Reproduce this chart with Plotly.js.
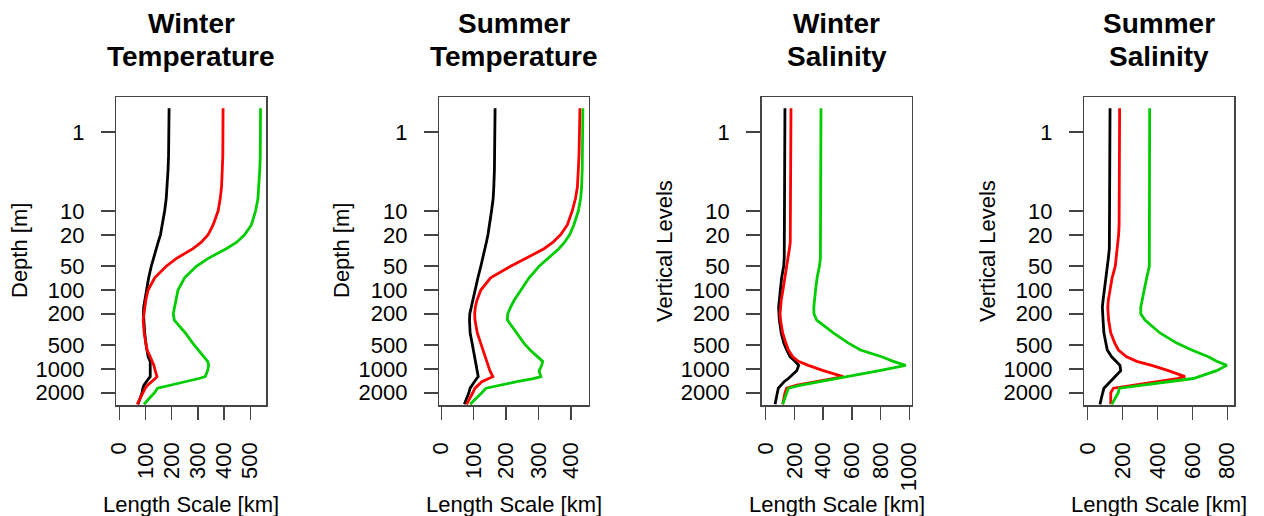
<!DOCTYPE html>
<html><head><meta charset="utf-8">
<script src="https://cdn.plot.ly/plotly-3.0.1.min.js"></script>
<style>html,body{margin:0;padding:0;background:#fff}</style>
</head><body><div id="chart" style="width:1264px;height:516px"></div>
<script>
// Depth levels [m]
const depth = [0.5, 1, 2, 3, 5, 7, 10, 15, 20, 25, 30, 40, 50, 70, 100, 135, 165, 200, 240, 350, 470, 575, 700, 800, 900, 1050, 1250, 1320, 1450, 1600, 1750, 2000, 2800];

// Winter Temperature
const wtBlack = [190,190,188,186,183,179,173,164,157,148,141,129,122,112,103,97,93,92,93,97,101,106,110,118,118,118,118,112,102,94,90,87,71];
const wtRed   = [396,396,395,393,390,385,377,358,339,312,281,217,179,135,110,101,97,92,91,95,102,106,118,127,132,137,144,137,121,108,99,90,68];
const wtGreen = [539,539,538,536,533,529,520,504,478,447,408,338,294,249,224,215,211,206,210,252,280,303,324,337,341,337,328,304,251,192,146,134,94];
// Summer Temperature
const stBlack = [166,166,165,164,162,160,155,149,144,139,135,127,122,113,104,97,93,88,87,89,95,99,104,107,109,111,114,109,102,94,89,85,71];
const stRed   = [428,427,425,423,420,414,404,389,368,344,317,260,214,152,122,110,105,103,104,111,122,130,135,140,145,150,159,145,125,114,104,97,78];
const stGreen = [437,437,436,435,433,430,423,409,396,380,363,327,302,271,245,225,214,205,204,233,255,274,299,313,310,302,307,284,233,179,138,125,89];
// Winter Salinity
const wsBlack = [134,134,134,134,134,134,134,134,134,133,132,129,125,111,102,94,90,92,95,108,126,146,169,204,230,216,174,158,128,104,88,81,65];
const wsRed   = [176,176,176,176,176,176,176,176,175,171,165,155,149,134,120,108,102,100,103,118,140,158,188,227,297,401,540,476,353,216,146,134,118];
const wsGreen = [385,385,385,385,385,385,385,385,385,384,383,381,374,358,347,340,335,336,355,471,576,660,808,889,975,792,564,488,374,246,158,146,118];
// Summer Salinity
const ssBlack = [128,128,128,128,128,128,128,128,128,126,124,118,112,103,93,88,84,85,88,93,103,112,137,162,185,189,156,147,128,105,93,86,70];
const ssRed   = [183,183,183,183,183,183,182,180,177,173,170,163,158,140,126,118,115,116,120,132,155,176,223,281,367,462,558,512,386,246,147,132,132];
const ssGreen = [355,355,355,355,355,355,355,355,355,355,355,355,353,338,323,312,304,304,328,414,510,596,691,739,797,739,643,605,462,300,181,175,138];

const titles = [["Winter","Temperature"],["Summer","Temperature"],["Winter","Salinity"],["Summer","Salinity"]];
const yTitles = ["Depth [m]","Depth [m]","Vertical Levels","Vertical Levels"];
const xTitle = "Length Scale [km]";
const depthTicks = [1,10,20,50,100,200,500,1000,2000];
const depthTickText = ["1","10","20","50","100","200","500","1000","2000"];
const xTicks = [[0,100,200,300,400,500],[0,100,200,300,400],[0,200,400,600,800,1000],[0,200,400,600,800]];
const seriesColors = ["#000000","#ff0000","#00cd00"];

const panels = [[wtBlack,wtRed,wtGreen],[stBlack,stRed,stGreen],[wsBlack,wsRed,wsGreen],[ssBlack,ssRed,ssGreen]];

// layout geometry (pixels)
const W = 1264, H = 516;
const boxes = [[116.3,266.3],[439.3,588.7],[761.7,911.7],[1084.3,1234.3]];
const xRanges = [[-11.5,561],[-6.2,455],[-28,1017],[-19.5,840]];
const yTop = 97, yBot = 405;
const yTitleX = [19, 341, 664, 987];

const FONT = "Liberation Sans, Arial, Helvetica, sans-serif";
const AX = '#444';
const traces = [];
const layout = {
  width: W, height: H, autosize: false,
  margin: {l:0, r:0, t:0, b:0},
  paper_bgcolor: '#fff', plot_bgcolor: '#fff',
  showlegend: false,
  font: {family: FONT, color: '#000'},
  annotations: []
};

panels.forEach((series, i) => {
  const n = i === 0 ? '' : String(i + 1);
  series.forEach((vals, k) => {
    traces.push({
      type: 'scatter', mode: 'lines', x: vals, y: depth,
      xaxis: 'x' + n, yaxis: 'y' + n,
      line: {color: seriesColors[k], width: 2.8},
      hoverinfo: 'skip'
    });
  });
  const dom = [boxes[i][0] / W, boxes[i][1] / W];
  layout['xaxis' + n] = {
    domain: dom, range: xRanges[i], anchor: 'y' + n,
    tickvals: xTicks[i], ticktext: xTicks[i].map(String),
    ticks: 'outside', ticklen: 13, tickwidth: 1.5, tickcolor: AX,
    tickangle: -90, tickfont: {size: 22, family: FONT, color: '#000'},
    ticklabelstandoff: 14,
    showline: true, mirror: true, linecolor: AX, linewidth: 1.5,
    showgrid: false, zeroline: false, fixedrange: true
  };
  layout['yaxis' + n] = {
    domain: [1 - yBot / H, 1 - yTop / H], anchor: 'x' + n,
    type: 'log', range: [Math.log10(2857), Math.log10(0.36)],
    tickvals: depthTicks, ticktext: depthTickText,
    ticks: 'outside', ticklen: 14, tickwidth: 1.5, tickcolor: AX,
    tickfont: {size: 22, family: FONT, color: '#000'},
    ticklabelstandoff: 12,
    showline: true, mirror: true, linecolor: AX, linewidth: 1.5,
    showgrid: false, zeroline: false, fixedrange: true
  };
  const cx = (boxes[i][0] + boxes[i][1]) / 2 / W;
  layout.annotations.push(
    {text: '<b>' + titles[i][0] + '</b>', x: cx, y: 1 - 24 / H, xref: 'paper', yref: 'paper',
     xanchor: 'center', yanchor: 'middle', showarrow: false, font: {size: 28, family: FONT, color: '#000'}},
    {text: '<b>' + titles[i][1] + '</b>', x: cx, y: 1 - 57 / H, xref: 'paper', yref: 'paper',
     xanchor: 'center', yanchor: 'middle', showarrow: false, font: {size: 28, family: FONT, color: '#000'}},
    {text: xTitle, x: cx, y: 1 - 504 / H, xref: 'paper', yref: 'paper',
     xanchor: 'center', yanchor: 'middle', showarrow: false, font: {size: 22, family: FONT, color: '#000'}},
    {text: yTitles[i], x: yTitleX[i] / W, y: 1 - 251 / H, xref: 'paper', yref: 'paper', textangle: -90,
     xanchor: 'center', yanchor: 'middle', showarrow: false, font: {size: 22, family: FONT, color: '#000'}}
  );
});

Plotly.newPlot('chart', traces, layout, {displayModeBar: false, staticPlot: true});
</script></body></html>
